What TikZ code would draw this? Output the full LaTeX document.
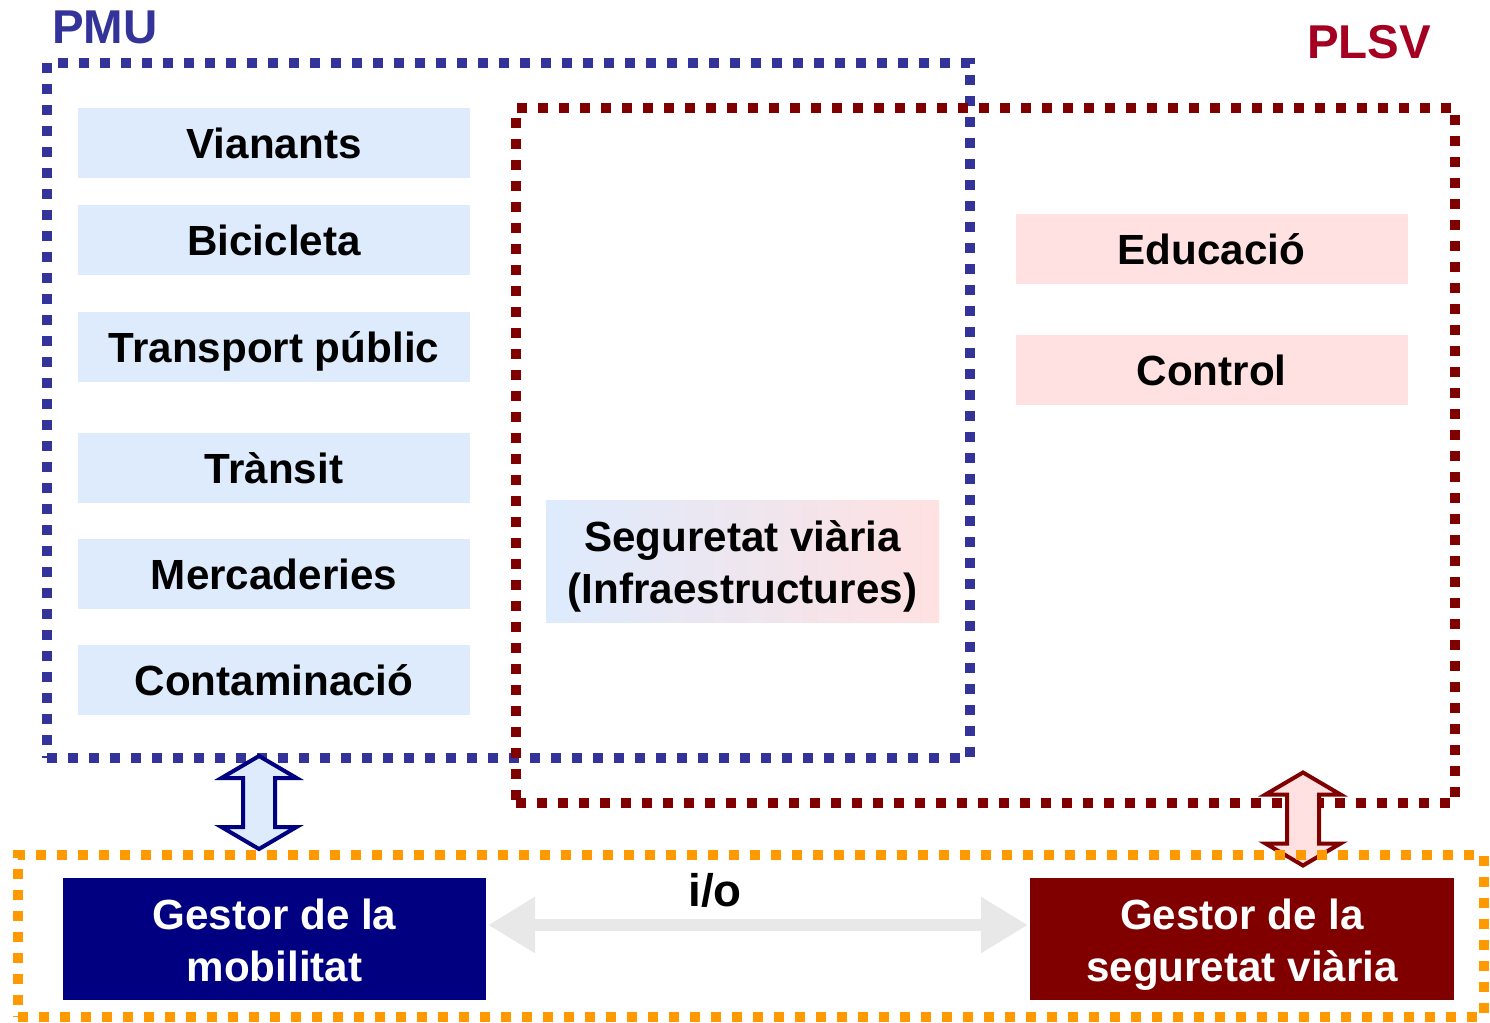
\documentclass[tikz,border=0pt]{standalone}
\usepackage{fontspec}
\setmainfont{Liberation Sans}
\usetikzlibrary{positioning, arrows.meta, calc}

\definecolor{pmublue}{RGB}{51,51,153}
\definecolor{plsvlabel}{RGB}{165,0,33}
\definecolor{plsvred}{RGB}{128,0,0}
\definecolor{busorange}{RGB}{255,153,0}
\definecolor{lightblue}{RGB}{221,235,253}
\definecolor{lightpink}{RGB}{255,225,225}
\definecolor{navyblue}{RGB}{0,0,128}
\definecolor{iogrey}{RGB}{232,232,232}

\newcommand{\topstrut}{\rule{0pt}{12.6pt}}
\newcommand{\botstrut}{\rule[-3pt]{0pt}{3pt}}

\begin{document}
\begin{tikzpicture}[
    frame/.style={draw, line width=0.1cm, dash pattern=on 0.1cm off 0.11cm, inner sep=0, outer sep=0},
    title/.style={font=\fontsize{13.5}{16}\selectfont\bfseries},
    topic/.style={minimum width=3.92cm, minimum height=0.70cm, inner sep=0, outer sep=0,
                  text height=0.95em, text depth=0.05em, font=\fontsize{12}{14.8}\selectfont\bfseries},
    pmutopic/.style={topic, fill=lightblue},
    plsvtopic/.style={topic, fill=lightpink},
    twoline/.style={minimum height=1.22cm, inner sep=0, outer sep=0, align=center,
                    font=\fontsize{12}{14.8}\selectfont\bfseries},
    manager/.style={twoline, minimum width=4.23cm, text=white},
    ioarrow/.style={line width=0.12cm, draw=iogrey, {Triangle[length=0.47cm, width=0.53cm]}-{Triangle[length=0.47cm, width=0.53cm]}, shorten <=0.02cm, shorten >=0.02cm},
    blockarrow/.style={line width=0.04cm, line join=miter},
    updown/.pic={
      \path[pic actions] (0,0.465) -- (0.375,0.245) -- (0.16,0.245) -- (0.16,-0.245)
        -- (0.375,-0.245) -- (0,-0.465) -- (-0.375,-0.245) -- (-0.16,-0.245)
        -- (-0.16,0.245) -- (-0.375,0.245) -- cycle;
    }
  ]
  \useasboundingbox (0,0) rectangle (14.9,-10.22);

  % --- PLAN FRAMES ---
  \node[frame, draw=pmublue, minimum width=9.23cm, minimum height=6.95cm] (pmu) at (5.085,-4.105) {};
  \node[frame, draw=plsvred, minimum width=9.39cm, minimum height=6.95cm] (plsv) at (9.855,-4.555) {};

  \node[title, text=pmublue] (pmulabel) at (1.05,-0.27) {PMU};
  \node[title, text=plsvlabel] (plsvlabel) at (13.69,-0.42) {PLSV};

  % --- PMU topics ---
  \node[pmutopic] (vianants) at (2.74,-1.43) {Vianants};
  \node[pmutopic, below=0.27cm of vianants] (bicicleta) {Bicicleta};
  \node[pmutopic, below=0.37cm of bicicleta] (transport) {Transport públic};
  \node[pmutopic, below=0.51cm of transport] (transit) {Trànsit};
  \node[pmutopic, below=0.36cm of transit] (mercaderies) {Mercaderies};
  \node[pmutopic, below=0.36cm of mercaderies] (contaminacio) {Contaminació};

  % --- PLSV topics ---
  \node[plsvtopic] (educacio) at (12.115,-2.49) {Educació};
  \node[plsvtopic, below=0.51cm of educacio] (control) {Control};

  % Shared topic
  \node[twoline, minimum width=3.93cm, left color=lightblue, right color=lightpink]
    (seguretat) at (7.425,-5.61) {\topstrut Seguretat viària\\(Infraestructures)\botstrut};

  % --- MANAGERS ---
  \node[manager, fill=navyblue] (mob) at (2.745,-9.39) {\topstrut Gestor de la\\mobilitat\botstrut};
  \node[manager, fill=plsvred, minimum width=4.24cm] (seg) at (12.42,-9.39) {\topstrut Gestor de la\\seguretat viària\botstrut};

  \draw[ioarrow] ([yshift=0.14cm]mob.east) -- ([yshift=0.14cm]seg.west);
  \node[font=\fontsize{13}{15}\selectfont\bfseries] (io) at (7.15,-8.90) {i/o};

  % Links between plans and managers
  \pic[blockarrow, draw=navyblue, fill=lightblue] at (2.59,-8.025) {updown};
  \pic[blockarrow, draw=plsvred, fill=lightpink] at (13.03,-8.19) {updown};

  \node[frame, draw=busorange, minimum width=14.66cm, minimum height=1.62cm] (bus) at (7.51,-9.36) {};

\end{tikzpicture}
\end{document}
